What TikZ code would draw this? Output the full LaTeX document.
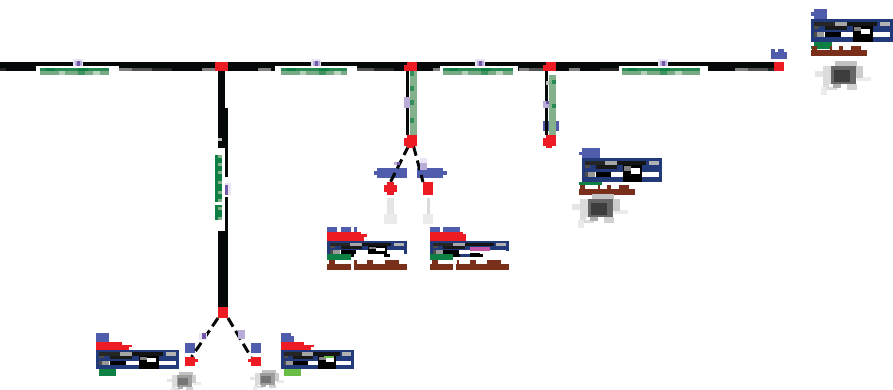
\documentclass[tikz,border=0pt]{standalone}
\definecolor{nodered}{HTML}{ED1C24}
\definecolor{navybar}{HTML}{223A7A}
\definecolor{bluemark}{HTML}{4F5DAC}
\definecolor{lineblack}{HTML}{040808}
\definecolor{greenbar}{HTML}{0F8044}
\definecolor{palegreen}{HTML}{84B08C}
\definecolor{lightgreenbar}{HTML}{6ABD45}
\definecolor{brownbar}{HTML}{7A2F1A}
\definecolor{lavpale}{HTML}{E9E5F4}
\definecolor{lavmid}{HTML}{B9ACD8}
\definecolor{purplemark}{HTML}{7358A8}
\definecolor{pinkbar}{HTML}{C257A8}
\pgfdeclarelayer{bg}
\pgfdeclarelayer{mid}
\pgfsetlayers{bg,mid,main}
\tikzset{
 box/.style={rectangle,draw=none,inner sep=0pt,outer sep=0pt,anchor=north west},
 redj/.style={box,fill=nodered},
 bluej/.style={box,fill=bluemark},
 mainline/.style={draw=lineblack,line width=9pt},
 branch/.style={draw=lineblack,line width=3pt},
 dashbranch/.style={draw=lineblack,line width=3pt,dash pattern=on 10pt off 5pt},
}
\newcommand{\rr}[3]{\fill[#1] #2 rectangle #3;}
\newcommand{\lav}[2]{\begin{scope}[shift={(#1,#2)}]
 \rr{lavpale}{(0,0)}{(10,7)}\rr{lavmid}{(2,2)}{(9,7)}\rr{purplemark}{(4,2)}{(7,7)}\end{scope}}
\newcommand{\hseg}[4]{%
 \rr{white}{(#1,66)}{(#2,76)}
 \rr{greenbar!80!palegreen}{(#3,68)}{(#4,71)}
 \rr{palegreen!90!greenbar}{(#3,71)}{(#4,75)}
 \pgfmathsetmacro{\xa}{#3+6}\pgfmathsetmacro{\xb}{#3+19}\pgfmathsetmacro{\xc}{#3+38}\pgfmathsetmacro{\xd}{#3+53}
 \rr{greenbar}{(\xa,68)}{(\xa+9,71)}\rr{greenbar}{(\xc,68)}{(\xc+10,71)}
 \rr{palegreen!60!white}{(\xb,71)}{(\xb+6,75)}\rr{palegreen!55!white}{(\xd,71)}{(\xd+7,75)}
 \rr{greenbar!60!palegreen}{(\xc,71)}{(\xc+7,75)}}
\newcommand{\navy}[5]{%
 \begin{scope}[shift={(#1,#2)},xscale=#3/82,yscale=#4/23]
 \rr{navybar}{(0,0)}{(82,23)}
 \rr{black!85}{(3,3)}{(24,7)}\rr{black!35}{(24,3)}{(36,7)}\rr{black!92}{(36,3)}{(66,7)}\rr{black!30}{(69,3)}{(79,7)}
 \rr{black!90}{(14,7)}{(36,11)}\rr{black!70}{(3,7)}{(8,10)}
 \rr{white}{(3,13)}{(79,18)}
 \rr{black!40}{(6,13)}{(13,18)}\rr{black}{(14,13)}{(30,18)}
 \rr{black}{(42,7)}{(62,23)}\rr{white}{(50,10)}{(59,15)}\rr{black!50}{(43,8)}{(50,12)}
 \rr{black!70}{(3,13)}{(6,18)}
 #5
 \end{scope}}
\newcommand{\brownbar}[3]{%
 \rr{brownbar}{(#1,#3+4)}{(#2,#3+10)}
 \pgfmathsetmacro{\w}{(#2-#1)}
 \rr{brownbar}{(#1+.02*\w,#3)}{(#1+.1*\w,#3+4)}\rr{brownbar}{(#1+.34*\w,#3)}{(#1+.37*\w,#3+4)}
 \rr{brownbar}{(#1+.5*\w,#3)}{(#1+.58*\w,#3+4)}\rr{brownbar}{(#1+.72*\w,#3)}{(#1+.9*\w,#3+4)}}
\newcommand{\smudge}[4]{%
 \begin{scope}[shift={(#1,#2)},scale=#3]
 \rr{black!10}{(-28,-4)}{(-14,2)}\rr{black!14}{(-20,-9)}{(-10,8)}
 \rr{black!14}{(-20,8)}{(-6,15)}\rr{white}{(-14,9)}{(-10,12)}
 \rr{black!18}{(4,9)}{(14,15)}\rr{black!8}{(14,2)}{(28,6)}\rr{black!20}{(12,-9)}{(20,3)}
 \rr{black!8}{(-22,12)}{(-16,20)}
 \rr{black!24}{(-8,-14)}{(14,-9)}
 \rr{black!#4}{(-12,-9)}{(13,9)}
 \pgfmathsetmacro{\dk}{#4+16}
 \rr{black!\dk}{(-9,-5)}{(7,7)}
 \rr{black!32}{(-10,9)}{(-2,13)}
 \end{scope}}
\begin{document}
\begin{tikzpicture}[x=1pt,y=-1pt]
\useasboundingbox (0,0) rectangle (893,390);
\begin{pgfonlayer}{bg}
\fill[white] (0,0) rectangle (893,390);
\end{pgfonlayer}
\node[redj,minimum width=13pt,minimum height=9pt] (j1) at (215,62) {};
\node[redj,minimum width=13pt,minimum height=9pt] (j2) at (404,62) {};
\node[redj,minimum width=13pt,minimum height=9pt] (j3) at (543,62) {};
\node[redj,minimum width=10pt,minimum height=9pt] (j4) at (774,62) {};
\node[redj,minimum width=10pt,minimum height=11pt] (j5) at (218,307) {};
\node[redj,minimum width=13pt,minimum height=11pt] (j6) at (404,135) {};
\node[redj,minimum width=13pt,minimum height=11pt] (j7) at (543,135) {};
\node[redj,minimum width=13pt,minimum height=13pt] (r1) at (384,182) {};
\node[redj,minimum width=10pt,minimum height=13pt] (r2) at (423,182) {};
\node[redj,minimum width=13pt,minimum height=9pt] (r3) at (185,357) {};
\node[redj,minimum width=13pt,minimum height=9pt] (r4) at (248,357) {};
\coordinate (start) at (0,66.5);
\coordinate (w1) at (226.5,108);
\rr{lineblack}{(404,62)}{(407,65)}\rr{lineblack}{(543,62)}{(546,65)}
\rr{nodered}{(407,145)}{(414,148)}\rr{nodered}{(546,145)}{(552,148)}
\rr{white}{(404,135)}{(407,138)}\rr{white}{(543,135)}{(546,138)}
\rr{white}{(384,182)}{(387,185)}\rr{white}{(384,192)}{(387,195)}\rr{white}{(394,182)}{(397,185)}\rr{white}{(394,192)}{(397,195)}
\rr{white}{(195,357)}{(198,359)}\rr{white}{(195,362)}{(198,366)}
\rr{white}{(248,357)}{(251,359)}\rr{white}{(248,362)}{(251,366)}
\begin{pgfonlayer}{bg}
 \node[bluej,minimum width=30pt,minimum height=10pt] (b1) at (377,168) {};
 \node[bluej,minimum width=26pt,minimum height=10pt] (b2) at (417,168) {};
 \rr{bluemark}{(374,171)}{(377,175)}\rr{bluemark}{(443,171)}{(447,175)}
 \node[bluej,minimum width=16pt,minimum height=10pt] (b3) at (543,121) {};
 \node[bluej,minimum width=10pt,minimum height=10pt] (b4) at (185,343) {};
 \node[bluej,minimum width=10pt,minimum height=10pt] (b5) at (251,343) {};
 \draw[mainline] (start) -- (j1.center) -- (j2.center) -- (j3.center) -- (j4.center);
 \draw[draw=lineblack,line width=7pt] (j1.center) -- (j1.center |- j5.center);
 \draw[draw=lineblack,line width=3pt] (w1) -- (w1 |- j5.center);
 \draw[branch] ([xshift=-3pt]j2.center) -- ([xshift=-3pt]j6.center);
 \draw[branch] ([xshift=-3pt]j3.center) -- ([xshift=-3pt]j7.center);
 \draw[dashbranch] ([xshift=-2pt]j6.south) -- (r1.north);
 \draw[dashbranch] ([xshift=3pt]j6.south) -- (r2.north west);
 \draw[dashbranch] (j5.south west) -- (r3.north);
 \draw[dashbranch] (j5.south east) -- ([xshift=3pt]r4.north west);
\end{pgfonlayer}
\begin{pgfonlayer}{mid}
 \rr{black!85}{(0,68)}{(6,71)}
 \foreach \a/\b/\c in {119/132/50,132/152/68,152/172/85,202/215/50,258/271/50,357/374/68,374/394/85,433/440/50,519/529/50,529/547/68,569/580/50,600/619/85,735/748/50,748/768/68,768/774/85}{
  \rr{black!\c}{(\a,68)}{(\b,71)}}
 \hseg{36}{119}{40}{109}
 \hseg{275}{357}{281}{347}
 \hseg{440}{518}{443}{513}
 \hseg{619}{708}{622}{700}
 \lav{73}{59}\lav{311}{59}\lav{475}{59}\lav{658}{59}
 \rr{white}{(218,148)}{(225,231)}
 \rr{white}{(225,177)}{(228,197)}
 \rr{greenbar}{(215,155)}{(222,202)}\rr{greenbar}{(215,205)}{(222,220)}
 \foreach \y in {155,163,171,181,191,199,207,217}{\rr{palegreen}{(218,\y)}{(222,\y+3)}}
 \rr{black!25}{(218,138)}{(222,141)}
 \rr{lavpale}{(225,183)}{(231,195)}\rr{purplemark}{(225,185)}{(228,195)}
 \rr{palegreen}{(410,71)}{(417,135)}
 \foreach \y in {71,86,100,118}{\rr{greenbar!70!palegreen}{(410,\y)}{(414,\y+5)}}
 \rr{lavmid}{(404,97)}{(410,108)}
 \rr{palegreen}{(549,75)}{(556,135)}
 \foreach \y in {80,104}{\rr{greenbar!80!palegreen}{(552,\y)}{(556,\y+4)}}
 \rr{black!25}{(546,81)}{(549,85)}
 \rr{lavmid}{(543,101)}{(549,108)}\rr{purplemark}{(546,101)}{(549,104)}
 \rr{lavmid}{(394,162)}{(400,165)}\rr{purplemark}{(397,162)}{(400,165)}
 \rr{lavpale}{(420,158)}{(427,163)}\rr{lavmid}{(420,163)}{(427,170)}
 \rr{lavpale}{(199,333)}{(207,340)}\rr{purplemark}{(202,333)}{(206,339)}
 \rr{lavmid}{(238,330)}{(245,339)}
 \rr{black!10}{(387,198)}{(394,215)}\rr{black!8}{(384,214)}{(397,224)}
 \rr{black!14}{(427,198)}{(430,215)}\rr{black!8}{(423,214)}{(433,224)}
\end{pgfonlayer}
\node[bluej,minimum width=16pt,minimum height=7pt] (m1) at (771,52) {};
\rr{bluemark}{(771,49)}{(775,52)}\rr{bluemark}{(778,49)}{(784,52)}
\node[bluej,minimum width=13pt,minimum height=10pt] (c1) at (814,9) {};
\rr{bluemark}{(811,12)}{(814,16)}
\navy{811}{19}{82}{23}{}
\rr{greenbar}{(814,42)}{(832,47)}\rr{greenbar}{(811,46)}{(832,49)}
\brownbar{811}{867}{46}
\smudge{843}{75}{1}{60}
\node[bluej,minimum width=18pt,minimum height=10pt] (c2) at (582,148) {};
\rr{bluemark}{(579,152)}{(582,155)}
\navy{582}{158}{80}{24}{}
\rr{greenbar}{(579,182)}{(602,185)}
\brownbar{579}{635}{185}
\smudge{600}{208}{1}{60}
\node[bluej,minimum width=10pt,minimum height=5pt] (c3) at (327,227) {};
\rr{bluemark}{(341,227)}{(351,232)}\rr{bluemark}{(354,227)}{(357,232)}
\rr{nodered}{(327,232)}{(361,235)}\rr{nodered}{(327,234)}{(367,237)}\rr{nodered}{(327,237)}{(364,241)}
\navy{327}{241}{80}{16}{}
\rr{white}{(352,254)}{(407,257)}\rr{black}{(347,254)}{(354,257)}\rr{black}{(384,254)}{(390,257)}
\rr{greenbar}{(327,254)}{(351,260)}
\brownbar{327}{407}{260}
\rr{white}{(351,264)}{(354,270)}
\node[bluej,minimum width=10pt,minimum height=5pt] (c4) at (430,227) {};
\rr{bluemark}{(443,227)}{(460,232)}
\rr{nodered}{(430,232)}{(463,235)}\rr{nodered}{(430,234)}{(466,241)}
\navy{430}{241}{79}{16}{\rr{white}{(42,15)}{(82,23)}\rr{navybar}{(42,7)}{(62,15)}\rr{pinkbar}{(42,9)}{(62,15)}}
\rr{black}{(450,254)}{(460,257)}\rr{black}{(480,254)}{(483,257)}\rr{black}{(470,253)}{(480,257)}
\rr{greenbar}{(430,254)}{(453,260)}
\brownbar{430}{509}{260}
\rr{white}{(453,264)}{(456,270)}
\node[bluej,minimum width=13pt,minimum height=9pt] (c5) at (96,333) {};
\rr{nodered}{(96,342)}{(122,345)}\rr{nodered}{(96,345)}{(132,347)}\rr{nodered}{(96,347)}{(129,350)}
\navy{96}{350}{83}{19}{}
\rr{greenbar}{(99,369)}{(116,376)}
\smudge{184}{381}{.62}{38}
\node[bluej,minimum width=10pt,minimum height=9pt] (c6) at (281,333) {};
\rr{bluemark}{(291,336)}{(294,342)}
\rr{nodered}{(281,342)}{(304,345)}\rr{nodered}{(301,342)}{(304,345)}\rr{nodered}{(281,345)}{(314,347)}\rr{nodered}{(281,347)}{(311,350)}
\navy{281}{350}{73}{19}{\rr{lightgreenbar}{(48,7)}{(60,10)}}
\rr{lightgreenbar}{(284,369)}{(301,376)}
\smudge{267}{379}{.62}{38}
\end{tikzpicture}
\end{document}
